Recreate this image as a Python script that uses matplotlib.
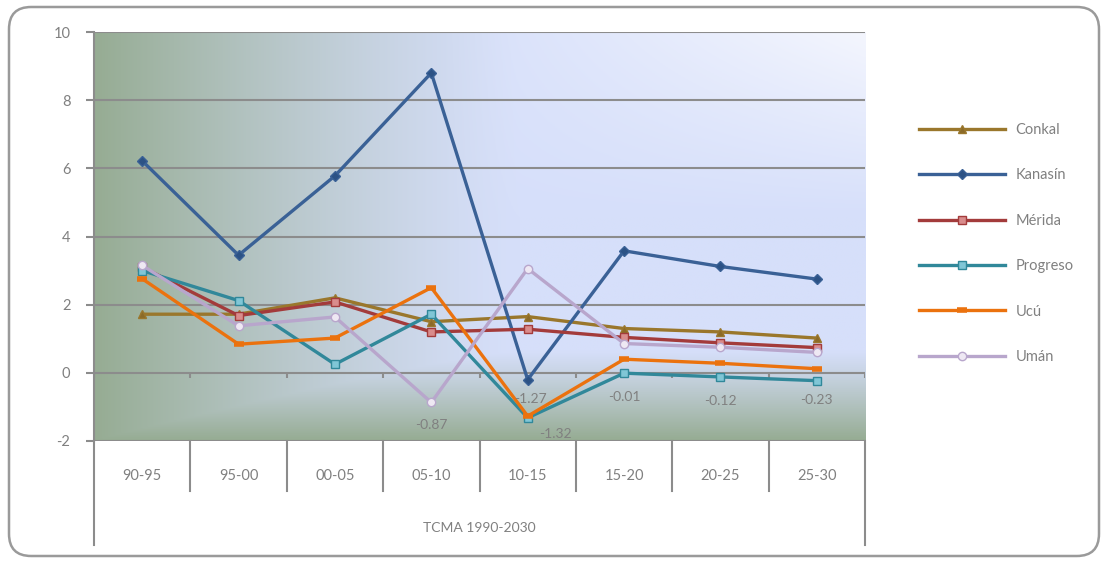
import numpy as np
import matplotlib
matplotlib.use("Agg")
import matplotlib.pyplot as plt
from matplotlib.patches import FancyBboxPatch
from matplotlib.colors import to_rgb

plt.rcParams['font.family'] = ['Lato', 'DejaVu Sans']
plt.rcParams['axes.unicode_minus'] = False

# datos
periodos = ["90-95", "95-00", "00-05", "05-10", "10-15", "15-20", "20-25", "25-30"]
conkal = [1.72, 1.72, 2.20, 1.50, 1.65, 1.30, 1.20, 1.02]
kanasin = [6.22, 3.45, 5.78, 8.80, -0.20, 3.58, 3.12, 2.75]
merida = [3.10, 1.68, 2.08, 1.20, 1.28, 1.04, 0.88, 0.74]
progreso = [3.00, 2.12, 0.25, 1.72, -1.32, -0.01, -0.12, -0.23]
ucu = [2.76, 0.84, 1.02, 2.50, -1.27, 0.40, 0.28, 0.12]
uman = [3.15, 1.38, 1.64, -0.87, 3.06, 0.86, 0.75, 0.60]
etiquetas = [("Umán", 3, -0.87), ("Ucú", 4, -1.27), ("Progreso", 4, -1.32),
             ("Progreso", 5, -0.01), ("Progreso", 6, -0.12), ("Progreso", 7, -0.23)]

series = [
    ("Conkal", conkal, "#9A772C", "^", "#8B6A28"),
    ("Kanasín", kanasin, "#3A6196", "D", "#2C5285"),
    ("Mérida", merida, "#A33B3B", "s", "#D98C8C"),
    ("Progreso", progreso, "#31889A", "s", "#80C6D6"),
    ("Ucú", ucu, "#EB720E", "_", "#EB720E"),
    ("Umán", uman, "#B8A6CC", "o", "#EEE8F3"),
]

gris = "#808080"
linea = "#8C8C8C"

fig = plt.figure(figsize=(11.07, 5.65), dpi=100)
ax = fig.add_axes([94 / 1107, 1 - 441 / 565, (865 - 94) / 1107, (441 - 32) / 565])

# fondo degradado
nx, ny = 300, 200
xs = np.linspace(0, 1, nx)
ys = np.linspace(0, 1, ny)
X, Y = np.meshgrid(xs, ys)
verde = np.array(to_rgb("#96AC93"))
azul = np.array(to_rgb("#D6DFFA"))
claro = np.array(to_rgb("#F4F6FE"))
base = azul[None, None, :] + (claro - azul)[None, None, :] * (np.clip((X - 0.45) / 0.55, 0, 1) * np.clip((Y - 0.55) / 0.45, 0, 1))[:, :, None]
wh = np.clip(1 - X / 0.55, 0, 1) ** 1.3
wv = np.clip(1 - Y / 0.22, 0, 1) ** 1.1
w = np.maximum(wh, wv)[:, :, None]
img = base * (1 - w) + verde[None, None, :] * w
ax.imshow(img, extent=[0, 8, -2, 10], origin="lower", aspect="auto", zorder=0)

ax.set_xlim(0, 8)
ax.set_ylim(-2, 10)
for y in range(-2, 11, 2):
    ax.axhline(y, color=linea, lw=1.5, zorder=1)

x = np.arange(len(periodos)) + 0.5
for nombre, vals, col, mk, fill in series:
    if mk == "_":
        ms, mew = 7, 4
    elif mk == "D":
        ms, mew = 5, 1.0
    else:
        ms, mew = 6, 1.0
    ax.plot(x, vals, color=col, lw=2.4, marker=mk, markersize=ms,
            markerfacecolor=fill, markeredgecolor=col,
            markeredgewidth=mew, label=nombre, zorder=3)

offs = {(3, -0.87): (0, -16), (4, -1.27): (2, 12), (4, -1.32): (20, -12),
        (5, -0.01): (0, -17), (6, -0.12): (0, -17), (7, -0.23): (0, -14)}
for nombre, i, v in etiquetas:
    dx, dy = offs[(i, v)]
    ax.annotate(f"{v:.2f}", (x[i], v), xytext=(dx, dy), textcoords="offset points",
                ha="center", va="center", fontsize=10, color=gris, zorder=4)

# ejes
for s in ["top", "right", "bottom"]:
    ax.spines[s].set_visible(False)
ax.spines["left"].set_color(linea)
ax.spines["left"].set_linewidth(1.5)
ax.set_xticks([])
ax.set_yticks(range(-2, 11, 2))
ax.tick_params(axis="y", colors=linea, length=6, width=1.5, labelcolor=gris, labelsize=10.5, pad=11)

# marcas en el eje cero
ax.vlines(np.arange(0, 9), 0, -0.15, color=linea, lw=1.5, zorder=2)

trans = ax.get_xaxis_transform()
for b in range(1, 8):
    ax.plot([b, b], [0, -0.122], transform=trans, color=linea, lw=1.5, clip_on=False)
for b in [0, 8]:
    ax.plot([b, b], [0, -0.254], transform=trans, color=linea, lw=1.5, clip_on=False)
for xi, lab in zip(x, periodos):
    ax.text(xi, -0.086, lab, transform=trans, ha="center", va="center", fontsize=10.5, color=gris)
ax.text(4, -0.213, "TCMA 1990-2030", transform=trans, ha="center", va="center", fontsize=10, color=gris)

# leyenda
fig.legend(loc="upper left", bbox_to_anchor=(906 / 1107, 1 - 110 / 565), frameon=False,
           handlelength=5.9, labelspacing=2.15, fontsize=10.5, labelcolor=gris, handletextpad=0.7)

# borde redondeado
borde = FancyBboxPatch((9 / 1107, 9 / 565), 1090 / 1107, 549 / 565,
                       boxstyle="round,pad=0,rounding_size=0.02", transform=fig.transFigure,
                       fill=False, edgecolor="#9A9A9A", lw=1.8, mutation_aspect=1107 / 565)
fig.patches.append(borde)

fig.savefig("out.png", dpi=100)
